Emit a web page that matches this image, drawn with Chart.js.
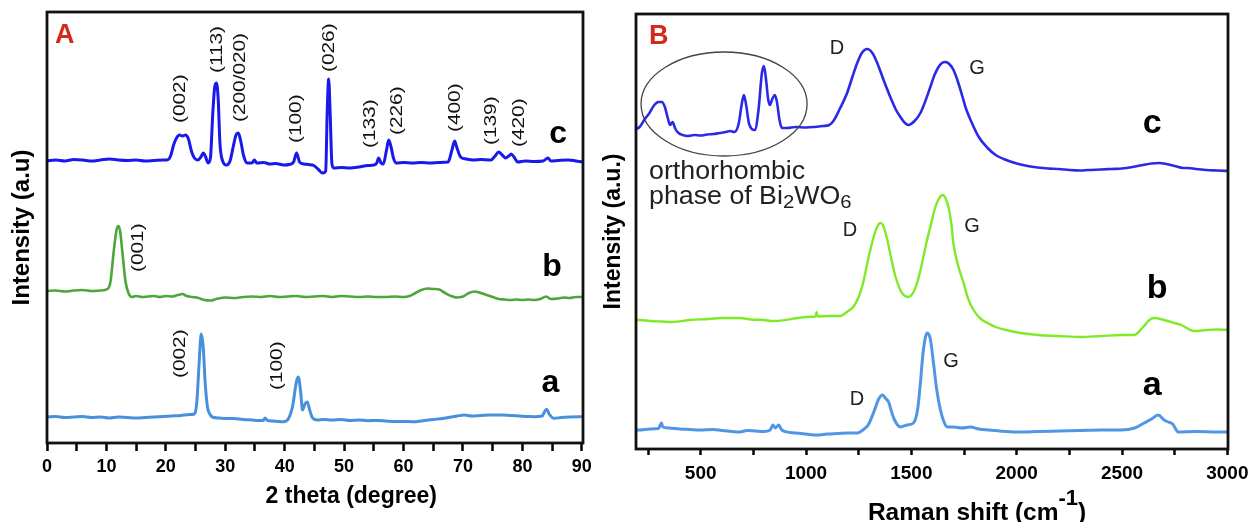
<!DOCTYPE html>
<html><head><meta charset="utf-8">
<script src="https://cdn.jsdelivr.net/npm/chart.js@4.4.1/dist/chart.umd.min.js"></script>
<style>
html,body{margin:0;padding:0;background:#fff;width:1252px;height:522px;overflow:hidden}
#ca{position:absolute;left:0;top:0}
#cb{position:absolute;left:600px;top:0}
</style></head><body>
<canvas id="ca" width="600" height="522"></canvas>
<canvas id="cb" width="652" height="522"></canvas>
<script>
// ---------- Panel A : XRD (2 theta in degree, intensity a.u.) ----------
const xrdTicks = [0,5,10,15,20,25,30,35,40,45,50,55,60,65,70,75,80,85,90];
const xrd_c = [[0,282],[1.5,283],[3,282],[4.5,283.5],[6,283],[7.5,282],[9,283],[10.5,284],[12,283],[13.5,282.5],[15,283],[16.5,282],[18,282.5],[19.5,283],[20.2,283],[20.8,287],[21.3,298],[21.8,305],[22.3,308],[22.8,307],[23.3,308],[23.8,304],[24.3,292],[24.8,285],[25.4,283],[25.9,286],[26.3,290],[26.7,286],[27.1,280],[27.5,285],[27.9,330],[28.2,355],[28.5,360],[28.8,345],[29.1,300],[29.5,283],[30.2,278],[30.8,282],[31.4,298],[31.8,308],[32.2,310],[32.6,302],[33.1,287],[33.7,280],[34.5,280],[34.9,283],[35.3,280],[36.5,280.5],[37.5,279],[38.5,279.5],[39.8,278],[40.8,278.5],[41.5,281],[42.0,290],[42.5,281],[43.2,279],[44.0,278.5],[44.9,277.5],[45.6,274],[46.4,270],[46.9,272],[47.15,330],[47.4,364],[47.65,330],[47.95,279],[48.3,275],[49.5,275.5],[51,275],[52.5,276],[54,277.5],[55,278],[55.5,280],[55.8,285],[56.2,280],[56.6,279],[57.1,292],[57.5,303],[57.9,296],[58.3,285],[58.8,280],[60,280.5],[61.5,280],[63,280.5],[64.5,280],[66,280.5],[67.5,281],[68.1,292],[68.6,302],[69.0,295],[69.6,286],[70.5,284],[71.8,283],[73,283.5],[74.7,283],[75.4,287],[76.0,291],[76.6,288],[77.2,285],[77.7,287],[78.1,289],[78.6,286],[79.2,281],[80.5,282],[82,281.5],[83.5,282],[84.3,285],[84.8,282],[86,282.5],[87.8,283],[89,282],[90.2,281]];
const xrd_b = [[0,152],[1.5,152.5],[3,151.5],[4.5,152.5],[6,153],[7.5,152],[9,152.5],[10.2,154],[10.7,162],[11.2,190],[11.7,213],[12.0,217],[12.3,212],[12.7,190],[13.2,162],[13.7,150],[14.3,146],[15,147],[16,146],[17,146.5],[18,147],[19,146],[20,147],[21,146.5],[22,148],[22.8,149],[23.5,147],[24.5,146],[25.5,145],[26.5,143],[27.5,142.5],[28.5,144],[30,145.5],[31.5,145],[33,146],[34.5,146.5],[36,146],[37.5,147],[39,146],[40.5,146.5],[42,147],[43.5,146],[45,146.5],[46.5,147],[48,146],[49.5,147],[51,146.5],[52.5,146],[54,146.5],[55.5,146],[57,146],[58.5,146.5],[60,146],[61,147],[62,150],[63,153],[64,154.5],[65,154],[66,153.5],[67,150],[68,147],[69,145.5],[70,146.5],[71,150],[72,151.5],[73,150],[74,148],[75,146],[76,144],[77,143.5],[78,143],[79,143.5],[80,143],[81,143.5],[82,143],[83,144],[84,146.5],[84.8,144],[86,144.5],[87,145.5],[88,145],[89,146],[90.2,146]];
const xrd_a = [[0,26],[1.5,26.5],[3,25.5],[4.5,26],[6,26.5],[7.5,25.5],[9,26],[10.5,25],[12,26],[13.5,25.5],[15,25],[16.5,25.5],[18,26],[19.5,26.5],[21,27],[22.5,27.5],[24,28.5],[24.8,29],[25.2,40],[25.6,80],[25.95,109],[26.3,95],[26.6,62],[27.0,36],[27.4,29],[27.8,26],[29,25],[30,24.5],[31.4,24.5],[33,23.5],[34.5,23],[35.5,22.5],[36.4,22.5],[36.7,25],[37.1,22.5],[38,22],[39,21.5],[39.8,21.3],[40.6,24],[41.3,36],[42.0,62],[42.3,66],[42.7,50],[43.0,33],[43.4,39],[43.8,41],[44.2,33],[44.7,25],[45.5,23],[46.5,23.5],[48,23],[49.5,23.5],[51,22.5],[52.5,23],[54,22.3],[55.5,22.5],[57,22],[58.5,21.5],[60,21.5],[61.5,21.3],[62.4,21.5],[63.5,22.5],[65,23.5],[66.8,24.7],[68,26],[69,27],[70.2,28],[71.5,27],[73,27.5],[74.5,28],[76.4,28],[78,27.5],[79.5,27],[81,26.5],[82,26.3],[83.3,27],[83.8,32],[84.1,33.7],[84.5,29],[85.3,24.7],[86.5,25.5],[88,26],[90.2,26.3]];
const xrdPeakLabels = [['(002)',22.4,320],['(113)',28.75,370],['(200/020)',32.6,321],['(100)',42.0,300],['(026)',47.5,371],['(133)',54.4,295],['(226)',59.0,308],['(400)',68.8,311],['(139)',74.9,298],['(420)',79.6,296],['(001)',15.4,171],['(002)',22.4,65],['(100)',38.8,53]];
const xrdCurveLabels = [['c',86.0,300],['b',85.0,167],['a',84.7,51]];

// ---------- Panel B : Raman (shift in cm-1, intensity a.u.) ----------
const ramanTicks = [250,500,750,1000,1250,1500,1750,2000,2250,2500,2750,3000];
const raman_c = [[195,320],[210,322],[235,330],[257,336],[280,344],[300,347],[315,347],[330,342],[345,330],[355,324],[367,327],[380,320],[395,316],[414,314],[440,313],[470,314],[500,313.5],[530,314.5],[560,315],[590,316],[620,317],[640,318],[660,317],[680,325],[695,345],[705,354],[715,345],[730,325],[757,319],[775,340],[790,375],[800,383],[810,370],[820,350],[829,344],[840,350],[852,354],[862,347],[875,328],[886,321],[910,321],[950,322],[1000,321.5],[1040,322],[1081,323],[1110,324],[1130,328],[1160,340],[1195,356],[1220,372],[1243,386],[1265,396],[1290,400],[1315,396],[1338,386],[1370,368],[1400,352],[1425,340],[1448,332],[1470,326],[1486,324],[1515,328],[1543,336],[1570,350],[1590,362],[1610,374],[1629,382],[1645,386],[1662,387],[1680,385],[1700,379],[1720,368],[1743,352],[1760,340],[1781,329],[1820,312],[1862,301],[1900,294],[1938,290],[2000,285.5],[2052,283],[2100,281.5],[2150,280.5],[2200,280],[2250,279],[2300,278.5],[2338,279],[2400,279.5],[2450,280],[2500,280.5],[2550,282],[2600,284],[2640,285.5],[2676,286],[2710,285],[2750,283],[2790,281],[2814,281],[2850,280],[2900,279],[2950,278.5],[3003,278]];
const raman_b = [[195,129],[210,129],[260,128],[314,127.5],[367,127],[450,129],[540,130],[600,131],[686,131],[740,129.5],[800,129],[843,128],[900,129],[960,131],[1000,132],[1045,132.5],[1050,137],[1056,132.5],[1100,133],[1162,133],[1200,138],[1224,142],[1250,152],[1271,166],[1290,185],[1305,199],[1325,215],[1340,223],[1352,226],[1365,224],[1385,210],[1405,190],[1425,172],[1450,158],[1470,153],[1486,152],[1510,157],[1530,168],[1550,185],[1570,205],[1590,222],[1614,242],[1630,250],[1648,254],[1662,251],[1676,242],[1690,225],[1700,205],[1720,185],[1748,166],[1770,150],[1795,139],[1830,130],[1862,126],[1900,122],[1950,119],[2019,116],[2100,114],[2200,113],[2305,112],[2400,113],[2500,114],[2557,114],[2600,122],[2630,129],[2652,131],[2700,129],[2750,126],[2781,124],[2843,118],[2900,119],[2950,119.5],[3003,119]];
const raman_a = [[195,19],[210,19],[260,20],[300,20.5],[308,24],[314,26],[320,22],[350,21],[400,20],[450,19.5],[495,19],[560,19.5],[600,18.5],[650,17.5],[686,17],[720,18.5],[760,18],[800,17.5],[830,19],[843,24],[855,21],[870,24],[885,19],[950,16],[1000,15],[1052,14],[1100,15],[1150,15.5],[1200,16],[1243,16],[1270,19],[1295,24],[1320,36],[1345,50],[1362,54],[1380,50],[1392,47],[1405,38],[1418,30],[1448,22],[1480,24],[1510,26],[1530,40],[1543,66],[1555,95],[1567,112],[1576,116],[1590,110],[1605,86],[1620,60],[1638,39],[1655,27],[1671,22],[1700,22],[1740,21],[1781,22],[1820,20],[1870,19],[1950,17.5],[2019,17],[2100,17.5],[2200,18],[2300,18.5],[2400,19],[2495,19],[2560,21],[2605,26],[2640,30],[2671,34],[2700,29],[2719,27],[2740,25],[2767,17],[2850,17.5],[2950,17],[3003,17]];
const ramanBandLabels = [['D',1147,401],['G',1812,381],['D',1209,219],['G',1788,223],['D',1242,50],['G',1688,88]];
const ramanCurveLabels = [['c',2643,316],['b',2667,151],['a',2643,54]];

// ---------- rendering ----------
const FONT = '"Liberation Sans", Arial, sans-serif';
const f = (w, s) => `${w} ${s}px ${FONT}`;

function ds(pts, color, w) {
  return { data: pts.map(p => ({x: p[0], y: p[1]})), borderColor: color, borderWidth: w,
    pointRadius: 0, fill: false, cubicInterpolationMode: 'monotone',
    borderJoinStyle: 'round', borderCapStyle: 'round' };
}

function makeDecor(spec) {
  return {
    id: 'decor',
    afterDraw(chart) {
      const ctx = chart.ctx, xs = chart.scales.x, ys = chart.scales.y, a = chart.chartArea;
      ctx.save();
      if (spec.ellipse) {
        const e = spec.ellipse;
        const cx = xs.getPixelForValue(e.x), cy = ys.getPixelForValue(e.y);
        const rx = Math.abs(xs.getPixelForValue(e.x + e.rx) - cx);
        const ry = Math.abs(ys.getPixelForValue(e.y + e.ry) - cy);
        ctx.beginPath(); ctx.ellipse(cx, cy, rx, ry, 0, 0, Math.PI * 2);
        ctx.strokeStyle = '#444'; ctx.lineWidth = 1.3; ctx.stroke();
      }
      for (const it of spec.items) {
        const px = xs.getPixelForValue(it.x), py = ys.getPixelForValue(it.y);
        ctx.save();
        ctx.translate(px, py);
        if (it.rot) ctx.rotate(-Math.PI / 2);
        if (it.sx) ctx.scale(it.sx, 1);
        ctx.fillStyle = it.color || '#000';
        ctx.textBaseline = it.base || 'alphabetic';
        const segs = it.segs || [{t: it.t}];
        let total = 0;
        const ws = segs.map(s => { ctx.font = s.font || it.font; const w = ctx.measureText(s.t).width; total += w; return w; });
        let x = it.align === 'center' ? -total / 2 : 0;
        ctx.textAlign = 'left';
        segs.forEach((s, i) => { ctx.font = s.font || it.font; ctx.fillText(s.t, x, s.dy || 0); x += ws[i]; });
        ctx.restore();
      }
      ctx.strokeStyle = '#111'; ctx.lineWidth = 2.8;
      ctx.strokeRect(a.left, a.top, a.right - a.left, a.bottom - a.top);
      ctx.restore();
    }
  };
}

function xAxis(min, max, tickVals, major, h, tl, pad, size) {
  return { type: 'linear', min, max,
    afterFit(s) { s.height = h; s.paddingLeft = 0; s.paddingRight = 0; },
    afterBuildTicks(s) { s.ticks = tickVals.map(v => ({ value: v })); },
    grid: { display: true, drawOnChartArea: false, drawTicks: true, tickLength: tl, tickWidth: 2.5, tickColor: '#000' },
    border: { display: false },
    ticks: { autoSkip: false, maxRotation: 0, minRotation: 0, padding: pad,
      color: '#000', font: { family: FONT, size, weight: 'bold' },
      callback: v => (Math.round(v) % major === 0 ? String(v) : '') } };
}
function yAxis(max, w, title, size, pt) {
  return { type: 'linear', min: 0, max, afterFit(s) { s.width = w; },
    grid: { display: false }, border: { display: false }, ticks: { display: false },
    title: { display: true, text: title, color: '#000', font: { family: FONT, size, weight: 'bold' }, padding: { top: pt, bottom: 0 } } };
}
const baseOpts = { responsive: false, animation: false, devicePixelRatio: 1,
  plugins: { legend: { display: false }, tooltip: { enabled: false } } };

// Panel A
const itemsA = [
  { t: 'A', x: 1.35, y: 400, font: f('bold', 27), color: '#d42a1c' },
  ...xrdPeakLabels.map(p => ({ t: p[0], x: p[1], y: p[2], rot: true, sx: 1.3, base: 'middle', font: f('normal', 16), color: '#111' })),
  ...xrdCurveLabels.map(p => ({ t: p[0], x: p[1], y: p[2], align: 'center', font: f('bold', 32) })),
  { t: '2 theta (degree)', x: 51.2, y: -60, align: 'center', font: f('bold', 23) }
];
new Chart(document.getElementById('ca'), {
  type: 'line',
  data: { datasets: [ds(xrd_c, '#1919eb', 3), ds(xrd_b, '#4ca63c', 2.6), ds(xrd_a, '#4890de', 3)] },
  options: { ...baseOpts, layout: { padding: { top: 12, right: 17, left: 0, bottom: 0 } },
    scales: { x: xAxis(0, 90.2, xrdTicks, 10, 79, 8, 5, 18), y: yAxis(431, 47, 'Intensity (a.u)', 24, 8) } },
  plugins: [makeDecor({ items: itemsA })]
});

// Panel B
const itemsB = [
  { t: 'B', x: 255, y: 405, font: f('bold', 27), color: '#d42a1c' },
  { t: 'orthorhombic', x: 255, y: 270, sx: 1.07, font: f('normal', 25), color: '#222' },
  { segs: [{ t: 'phase of Bi' }, { t: '2', dy: 4, font: f('normal', 19) }, { t: 'WO' }, { t: '6', dy: 4, font: f('normal', 19) }],
    x: 255, y: 245, sx: 1.07, font: f('normal', 25), color: '#222' },
  ...ramanBandLabels.map(p => ({ t: p[0], x: p[1], y: p[2], align: 'center', base: 'middle', font: f('normal', 20), color: '#222' })),
  ...ramanCurveLabels.map(p => ({ t: p[0], x: p[1], y: p[2], align: 'center', font: f('bold', 34) })),
  { segs: [{ t: 'Raman shift (cm' }, { t: '-1', dy: -15, font: f('bold', 22) }, { t: ')' }], x: 1812, y: -71, align: 'center', font: f('bold', 24.5) }
];
new Chart(document.getElementById('cb'), {
  type: 'line',
  data: { datasets: [ds(raman_c, '#2a2ae6', 2.6), ds(raman_b, '#7deb28', 2.4), ds(raman_a, '#5096e6', 3)] },
  options: { ...baseOpts, layout: { padding: { top: 14, right: 24, left: 0, bottom: 0 } },
    scales: { x: xAxis(193, 3003, ramanTicks, 500, 73, 6, 7, 19), y: yAxis(435, 36, 'Intensity (a.u.)', 23, 0) } },
  plugins: [makeDecor({ items: itemsB, ellipse: { x: 611, y: 345, rx: 394, ry: 52 } })]
});
</script>
</body></html>
